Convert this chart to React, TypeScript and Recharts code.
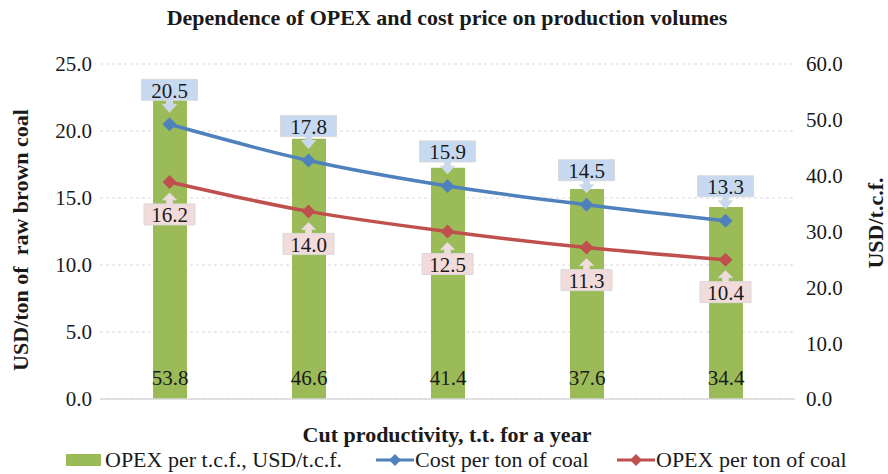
import { ComposedChart, Bar, Line, XAxis, YAxis, CartesianGrid, LabelList } from "recharts";

const categories = ["1", "2", "3", "4", "5"];
const opexPerTcf = [53.8, 46.6, 41.4, 37.6, 34.4];
const costPerTon = [20.5, 17.8, 15.9, 14.5, 13.3];
const opexPerTon = [16.2, 14.0, 12.5, 11.3, 10.4];
const leftTicks = [0, 5, 10, 15, 20, 25];
const rightTicks = [0, 10, 20, 30, 40, 50, 60];

const FONT = '"Liberation Serif", "Times New Roman", serif';
const GREEN = "#9BBB59";
const BLUE = "#4F81BD";
const RED = "#C0504D";

const data = categories.map((c, i) => ({
  name: c,
  tcf: opexPerTcf[i],
  cost: costPerTon[i],
  opex: opexPerTon[i],
}));

const Diamond = (color: string) => (props: any) => {
  const { cx, cy } = props;
  if (cx == null || cy == null) return <g />;
  const r = 7;
  return (
    <path
      d={`M${cx} ${cy - r} L${cx + r} ${cy} L${cx} ${cy + r} L${cx - r} ${cy} Z`}
      fill={color}
    />
  );
};

// callout box with a small arrow pointing at the point
const Callout = (above: boolean, fill: string, w: number) => (props: any) => {
  const { x, y, value } = props;
  const h = 21;
  const half = w / 2;
  let d: string;
  let ty: number;
  if (above) {
    const bottom = y - 24;
    const top = bottom - h;
    const tip = y - 12;
    d = `M${x - half} ${top} H${x + half} V${bottom} H${x + 3} V${bottom + 4} H${x + 7} L${x} ${tip} L${x - 7} ${bottom + 4} H${x - 3} V${bottom} H${x - half} Z`;
    ty = top + h / 2;
  } else {
    const top = y + 22;
    const bottom = top + h;
    const tip = y + 11;
    d = `M${x - half} ${bottom} H${x + half} V${top} H${x + 3} V${top - 4} H${x + 7} L${x} ${tip} L${x - 7} ${top - 4} H${x - 3} V${top} H${x - half} Z`;
    ty = top + h / 2;
  }
  return (
    <g>
      <path d={d} fill={fill} stroke="#D9D9D9" strokeWidth={1} />
      <text
        x={x}
        y={ty + 1}
        textAnchor="middle"
        dominantBaseline="central"
        fontFamily={FONT}
        fontSize={21}
        fill="#1a1a1a"
      >
        {Number(value).toFixed(1)}
      </text>
    </g>
  );
};

const BarValue = (props: any) => {
  const { x, y, width, height, value } = props;
  return (
    <text
      x={x + width / 2}
      y={y + height - 21}
      textAnchor="middle"
      dominantBaseline="central"
      fontFamily={FONT}
      fontSize={21}
      fill="#1a1a1a"
    >
      {Number(value).toFixed(1)}
    </text>
  );
};

const LineIcon = ({ color }: { color: string }) => (
  <svg width={38} height={14} style={{ display: "block", marginRight: 1 }}>
    <line x1={0} y1={7} x2={38} y2={7} stroke={color} strokeWidth={3} />
    <path d="M19 1 L25 7 L19 13 L13 7 Z" fill={color} />
  </svg>
);

export default function App() {
  const tickStyle = { fontSize: 21, fill: "#1a1a1a", fontFamily: FONT };
  return (
    <div style={{ position: "absolute", left: 0, top: 0, width: 888, height: 474, background: "#fff", fontFamily: FONT, overflow: "hidden" }}>
      <div style={{ position: "absolute", left: 0, width: 894, top: 5, textAlign: "center", fontWeight: "bold", fontSize: 22, color: "#1a1a1a" }}>
        Dependence of OPEX and cost price on production volumes
      </div>

      <ComposedChart
        width={888}
        height={474}
        data={data}
        margin={{ top: 64, right: 33, left: 0, bottom: 73 }}
      >
        <CartesianGrid yAxisId="left" vertical={false} stroke="#D9D9D9" strokeDasharray="3 3" />
        <XAxis dataKey="name" tick={false} tickLine={false} height={2} axisLine={{ stroke: "#D9D9D9", strokeWidth: 1.5 }} />
        <YAxis
          yAxisId="left"
          domain={[0, 25]}
          ticks={leftTicks}
          width={100}
          axisLine={false}
          tickLine={false}
          tickSize={0}
          tickMargin={8}
          tick={tickStyle}
          tickFormatter={(v) => Number(v).toFixed(1)}
        />
        <YAxis
          yAxisId="right"
          orientation="right"
          domain={[0, 60]}
          ticks={rightTicks}
          width={60}
          axisLine={false}
          tickLine={false}
          tickSize={0}
          tickMargin={11}
          tick={tickStyle}
          tickFormatter={(v) => Number(v).toFixed(1)}
        />
        <Bar yAxisId="right" dataKey="tcf" fill={GREEN} barSize={34} isAnimationActive={false}>
          <LabelList dataKey="tcf" content={BarValue} />
        </Bar>
        <Line
          yAxisId="left"
          type="monotone"
          dataKey="cost"
          stroke={BLUE}
          strokeWidth={3.5}
          dot={Diamond(BLUE)}
          activeDot={false}
          isAnimationActive={false}
        >
          <LabelList dataKey="cost" content={Callout(true, "#C6D9F1", 56)} />
        </Line>
        <Line
          yAxisId="left"
          type="monotone"
          dataKey="opex"
          stroke={RED}
          strokeWidth={3.5}
          dot={Diamond(RED)}
          activeDot={false}
          isAnimationActive={false}
        >
          <LabelList dataKey="opex" content={Callout(false, "#F2DCDB", 51)} />
        </Line>
      </ComposedChart>

      <div
        style={{
          position: "absolute",
          left: 21,
          top: 240,
          transform: "translate(-50%, -50%) rotate(-90deg)",
          whiteSpace: "pre",
          lineHeight: 1,
          fontWeight: "bold",
          fontSize: 22,
          color: "#1a1a1a",
        }}
      >
        {"USD/ton of  raw brown coal"}
      </div>
      <div
        style={{
          position: "absolute",
          left: 876,
          top: 223,
          transform: "translate(-50%, -50%) rotate(-90deg)",
          whiteSpace: "pre",
          lineHeight: 1,
          fontWeight: "bold",
          fontSize: 22,
          color: "#1a1a1a",
        }}
      >
        USD/t.c.f.
      </div>
      <div style={{ position: "absolute", left: 0, width: 894, top: 422, textAlign: "center", fontWeight: "bold", fontSize: 22, color: "#1a1a1a" }}>
        Cut productivity, t.t. for a year
      </div>

      <div style={{ position: "absolute", left: 66, top: 447, height: 26, display: "flex", alignItems: "center", fontSize: 22, color: "#1a1a1a", whiteSpace: "pre" }}>
        <div style={{ width: 35, height: 12, background: GREEN, marginRight: 4 }} />
        <span style={{ width: 271 }}>OPEX per t.c.f., USD/t.c.f.</span>
        <LineIcon color={BLUE} />
        <span style={{ width: 202 }}>Cost per ton of coal</span>
        <LineIcon color={RED} />
        <span>OPEX per ton of coal</span>
      </div>
    </div>
  );
}
